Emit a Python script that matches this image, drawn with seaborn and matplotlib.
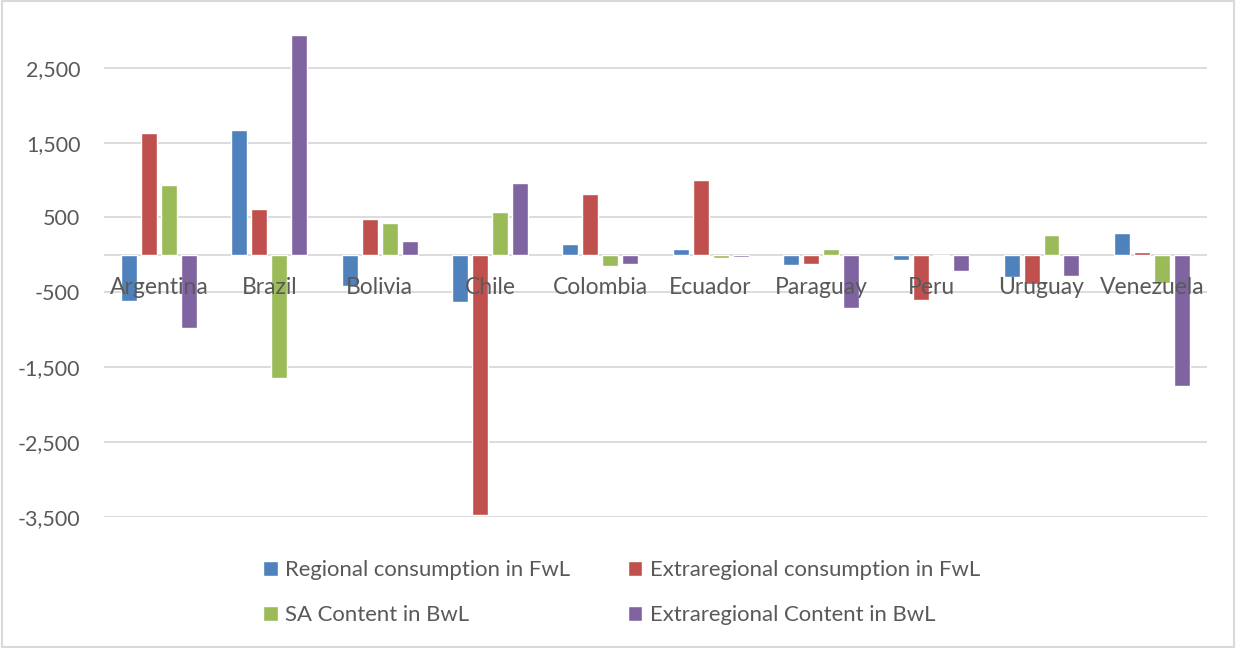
import pandas as pd
import matplotlib.pyplot as plt
import seaborn as sns
from matplotlib.patches import Rectangle

# values
countries = ["Argentina", "Brazil", "Bolivia", "Chile", "Colombia",
             "Ecuador", "Paraguay", "Peru", "Uruguay", "Venezuela"]
regional_fwl = [-615, 1670, -415, -625, 143, 75, -140, -70, -300, 294]
extraregional_fwl = [1635, 615, 480, -3470, 820, 1000, -115, -600, -390, 38]
sa_content_bwl = [935, -1645, 430, 580, -150, -45, 75, -10, 267, -370]
extraregional_bwl = [-975, 2940, 190, 955, -125, -25, -705, -220, -280, -1750]

series_names = ["Regional consumption in FwL", "Extraregional consumption in FwL",
                "SA Content in BwL", "Extraregional Content in BwL"]
colors = ["#4F81BD", "#C0504D", "#9BBB59", "#8064A2"]
yticks = [2500, 1500, 500, -500, -1500, -2500, -3500]

rows = []
for name, vals in zip(series_names, [regional_fwl, extraregional_fwl,
                                     sa_content_bwl, extraregional_bwl]):
    for c, v in zip(countries, vals):
        rows.append({"country": c, "series": name, "value": v})
df = pd.DataFrame(rows)

sns.set_style("white")
plt.rcParams["font.family"] = ["Lato", "DejaVu Sans"]
text_color = "#595959"
grid_color = "#D9D9D9"

fig = plt.figure(figsize=(12.36, 6.48), dpi=100)
ax = fig.add_axes([0.0841, 0.2022, 0.8924, 0.751])

sns.barplot(data=df, x="country", y="value", hue="series", order=countries,
            hue_order=series_names, palette=colors, width=0.725, gap=0.2,
            saturation=1, ax=ax, zorder=2, legend=True)

ax.set_ylim(-3500, 3000)
ax.set_xlim(-0.5, len(countries) - 0.5)
ax.set_yticks(yticks)
ax.set_yticklabels([f"{t:,}" for t in yticks], fontsize=15.5, color=text_color)
ax.tick_params(axis="y", length=0, pad=17)
ax.set_xticks([])
ax.set_xlabel("")
ax.set_ylabel("")
for t in yticks:
    ax.axhline(t, color=grid_color, lw=1.3, zorder=0)
ax.axhline(0, color=grid_color, lw=1.3, zorder=1)
for s in ax.spines.values():
    s.set_visible(False)

# category labels sit just under the zero line, over the bars
for i, c in enumerate(countries):
    ax.text(i, -430, c, ha="center", va="center", fontsize=16.5,
            color=text_color, zorder=5)

handles, labels = ax.get_legend_handles_labels()
ax.get_legend().remove()
# legend fills column-wise, reorder so rows read like the reference
order = [0, 2, 1, 3]
fig.legend([handles[i] for i in order], [labels[i] for i in order], ncol=2,
           loc="center", bbox_to_anchor=(0.503, 0.0855),
           frameon=False, fontsize=15.9, labelcolor=text_color,
           handlelength=0.65, handleheight=0.65, handletextpad=0.35,
           columnspacing=2.6, labelspacing=1.12)

fig.patches.append(Rectangle((0.0015, 0.002), 0.997, 0.996, transform=fig.transFigure,
                             fill=False, edgecolor=grid_color, lw=1.5))

fig.savefig("out.png", dpi=100)
